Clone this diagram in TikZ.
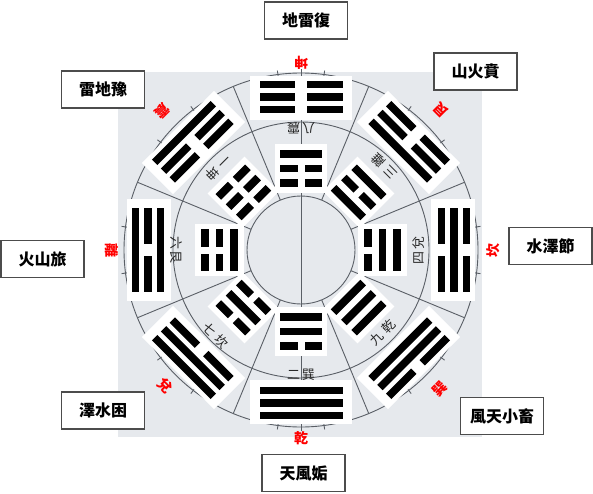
\documentclass[tikz,border=0pt]{standalone}
\usepackage{fontspec}
\newfontfamily\cjk{Noto Sans CJK TC}
\definecolor{bgc}{HTML}{E6E9ED}
\definecolor{ringc}{HTML}{5A5F66}
% one line of a trigram: #1 radial pos, #2 bit (1 solid), #3 half width, #4 half gap, #5 half thickness
\newcommand\trgline[5]{\ifnum#2=1 \fill (-#3,#1-#5) rectangle (#3,#1+#5);\else\fill (-#3,#1-#5) rectangle (-#4,#1+#5);\fill (#4,#1-#5) rectangle (#3,#1+#5);\fi}
% outer trigram: angle, bottom, middle, top (bottom line outermost)
\newcommand\outertri[4]{\begin{scope}[shift={(301,243)},rotate=#1-90]
\fill[white] (-51,130) rectangle (51,174);
\trgline{165.5}{#2}{41.5}{6}{3.8}\trgline{153}{#3}{41.5}{6}{3.8}\trgline{140.5}{#4}{41.5}{6}{3.8}
\end{scope}}
% inner trigram
\newcommand\innertri[4]{\begin{scope}[shift={(301,243)},rotate=#1-90]
\fill[white] (-26,57) rectangle (26,106);
\trgline{96}{#2}{21}{3.5}{3.9}\trgline{81.5}{#3}{21}{3.5}{3.9}\trgline{67}{#4}{21}{3.5}{3.9}
\end{scope}}
\begin{document}
\begin{tikzpicture}[x=1pt,y=1pt,
  ring/.style={draw=ringc, line width=0.9pt},
  hexbox/.style={draw=black!70, line width=1.1pt, fill=white, minimum width=83pt, minimum height=37pt, inner sep=0pt, font=\cjk\bfseries\fontsize{16}{19}\selectfont},
  redlab/.style={text=red, inner sep=0pt, font=\cjk\bfseries\fontsize{14}{14}\selectfont},
  numlab/.style={text=black!85, inner sep=0pt, font=\cjk\fontsize{13}{13}\selectfont}]
\useasboundingbox (0,0) rectangle (593,493);
\fill[white] (0,0) rectangle (593,493);
\fill[bgc] (118,56) rectangle (482,421);
\begin{scope}[shift={(301,243)}]
 \draw[ring] (0,0) circle[radius=54];
 \draw[ring] (0,0) circle[radius=128];
 \draw[ring] (0,0) circle[radius=177];
 \foreach \a in {22.5,67.5,...,337.5} \draw[ring] (\a:54) -- (\a:177);
 \draw[ring] (90:177) -- (270:177);
 \foreach \a in {82.5,90,97.5,262.5,270,277.5,172.5,187.5,-7.5,7.5,37.5,52.5,127.5,142.5,217.5,232.5,307.5,322.5}
   \draw[ring] (\a:171) -- (\a:181);
\end{scope}
% outer trigrams (upper trigram of each hexagram)
\outertri{90}{0}{0}{0}
\outertri{135}{1}{0}{0}
\outertri{45}{0}{0}{1}
\outertri{0}{0}{1}{0}
\outertri{315}{0}{1}{1}
\outertri{270}{1}{1}{1}
\outertri{225}{1}{1}{0}
\outertri{180}{1}{0}{1}
% inner trigrams
\innertri{90}{1}{0}{0}
\innertri{135}{0}{0}{0}
\innertri{45}{1}{0}{1}
\innertri{0}{1}{1}{0}
\innertri{315}{1}{1}{1}
\innertri{270}{0}{1}{1}
\innertri{225}{0}{1}{0}
\innertri{180}{0}{0}{1}
\begin{scope}[shift={(301,243)}]
 \foreach \a/\r/\n in {90/187/坤, 270/188/乾, 180/189/離, 0/192/坎, 135/197/震, 45/198/艮, 315/197/巽, 225/192/兌}
   \node[redlab, rotate=\a+90] (r\a) at (\a:\r) {\n};
 \foreach \a/\r/\n in {90/122/八\hspace{2pt}震, 270/125/二\hspace{2pt}巽, 180/125/六\hspace{2pt}艮, 0/118/四\hspace{2pt}兌, 135/117/一\hspace{4pt}坤, 45/118/三\hspace{4pt}離, 315/116/九\hspace{4pt}乾, 225/121/七\hspace{4pt}坎}
   \node[numlab, rotate=\a+90] (n\a) at (\a:\r) {\n};
\end{scope}
\node[hexbox] (fu)   at (306,472.5) {地雷復};
\node[hexbox] (gou)  at (303.5,20) {天風姤};
\node[hexbox] (yu)   at (103,403.5) {雷地豫};
\node[hexbox] (bi)   at (475.5,421.5) {山火賁};
\node[hexbox] (lv)   at (42.5,234) {火山旅};
\node[hexbox] (jie)  at (550.5,247) {水澤節};
\node[hexbox] (kun)  at (103,82.5) {澤水困};
\node[hexbox] (xch)  at (502,77) {風天小畜};
\end{tikzpicture}
\end{document}
